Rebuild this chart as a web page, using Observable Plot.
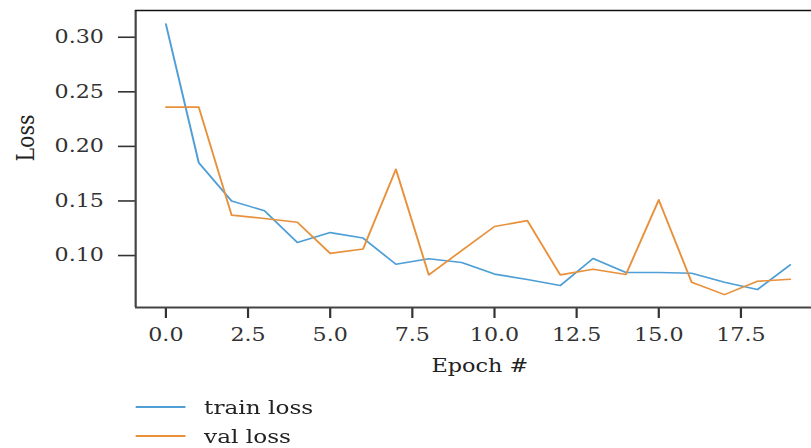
<!DOCTYPE html>
<html>
<head>
<meta charset="utf-8">
<script src="https://cdn.jsdelivr.net/npm/d3@7"></script>
<script src="https://cdn.jsdelivr.net/npm/@observablehq/plot@0.6"></script>
<style>
  body { margin: 0; background: #fff; }
  #wrap { width: 665px; transform: scaleX(1.22); transform-origin: 0 0; font-family: "DejaVu Serif", serif; }
  .row { display: flex; align-items: center; height: 28.5px; }
  .sw { width: 41px; height: 1.6px; margin-left: 110.7px; margin-right: 15.6px; }
  .lab { font-size: 19px; color: #222; }
</style>
</head>
<body>
<div id="wrap"><div id="chart"></div><div id="legend"></div></div>
<script>
// ---- data ----
const epochs    = [0, 1, 2, 3, 4, 5, 6, 7, 8, 9, 10, 11, 12, 13, 14, 15, 16, 17, 18, 19];
const trainLoss = [0.312, 0.185, 0.150, 0.141, 0.112, 0.121, 0.116, 0.092, 0.097, 0.0936,
                   0.083, 0.078, 0.0725, 0.0973, 0.0844, 0.0844, 0.0838, 0.0755, 0.0688, 0.0915];
const valLoss   = [0.236, 0.236, 0.137, 0.134, 0.1305, 0.102, 0.106, 0.179, 0.0823, 0.1045,
                   0.1266, 0.132, 0.0823, 0.0875, 0.0826, 0.151, 0.0755, 0.0642, 0.0764, 0.0783];
const seriesNames = ["train loss", "val loss"];
const xTicks = [0, 2.5, 5, 7.5, 10, 12.5, 15, 17.5];
const yTicks = [0.10, 0.15, 0.20, 0.25, 0.30];
const xLabel = "Epoch #";
const yLabel = "Loss";

// ---- styles ----
const seriesColors = ["#4f9fd6", "#e8913c"];
const xDomain = [-0.92, 19.66];
const yDomain = [0.0524, 0.3245];

const rows = epochs.flatMap((e, i) => [
  {epoch: e, loss: trainLoss[i], series: seriesNames[0]},
  {epoch: e, loss: valLoss[i], series: seriesNames[1]}
]);

const chart = Plot.plot({
  width: 665,
  height: 393,
  marginLeft: 110.7,
  marginRight: 0,
  marginTop: 10,
  marginBottom: 86,
  style: {fontFamily: "DejaVu Serif, serif", fontSize: "18.2px", background: "#fff", color: "#333"},
  x: {domain: xDomain},
  y: {domain: yDomain},
  color: {domain: seriesNames, range: seriesColors},
  marks: [
    Plot.axisX({ticks: xTicks, tickFormat: d3.format(".1f"), tickSize: 11, tickPadding: 10,
                label: null, color: "#333", strokeWidth: 1.8}),
    Plot.axisY({ticks: yTicks, tickFormat: d3.format(".2f"), tickSize: 14, tickPadding: 12,
                label: null, color: "#333", strokeWidth: 1.6}),
    Plot.ruleX([xDomain[0]], {stroke: "#444", strokeWidth: 1.8}),
    Plot.ruleY([yDomain[0]], {stroke: "#444", strokeWidth: 1.8}),
    Plot.ruleY([yDomain[1]], {stroke: "#111", strokeWidth: 1.5}),
    Plot.line(rows, {x: "epoch", y: "loss", z: "series", stroke: "series", strokeWidth: 1.6}),
    Plot.text([xLabel], {frameAnchor: "bottom", dy: 64, dx: 5, lineAnchor: "bottom", fontSize: 18.3, fill: "#222"}),
    Plot.text([yLabel], {frameAnchor: "left", dx: -90, dy: 2.5, rotate: -90, lineAnchor: "middle", fontSize: 20.5, fill: "#222"})
  ]
});
document.getElementById("chart").appendChild(chart);

const legend = document.getElementById("legend");
seriesNames.forEach((name, i) => {
  const row = document.createElement("div");
  row.className = "row";
  const sw = document.createElement("div");
  sw.className = "sw";
  sw.style.background = seriesColors[i];
  const lab = document.createElement("span");
  lab.className = "lab";
  lab.textContent = name;
  row.appendChild(sw);
  row.appendChild(lab);
  legend.appendChild(row);
});
</script>
</body>
</html>
